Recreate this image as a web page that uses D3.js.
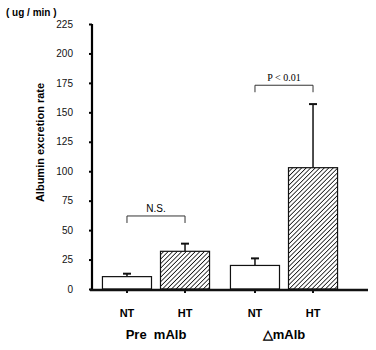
<!DOCTYPE html>
<html>
<head>
<meta charset="utf-8">
<script src="https://cdn.jsdelivr.net/npm/d3@7"></script>
<style>
  body { margin: 0; background: #fff; }
  svg { display: block; }
</style>
</head>
<body>
<div id="chart"></div>
<script>
// Chart values
const groups = ['Pre  mAlb', '\u25B3mAlb'];
const subgroups = ['NT', 'HT'];
const means = [[10.5, 32], [20, 103]];
const errTops = [[13, 38.5], [26, 157]];
const yTicks = [0, 25, 50, 75, 100, 125, 150, 175, 200, 225];
const sigLabels = ['N.S.', 'P < 0.01'];
const sigLevels = [62, 173];

const width = 376;
const height = 350;
const margin = { top: 24, right: 28, bottom: 61, left: 92 };

const svg = d3.select('#chart')
    .append('svg')
    .attr('width', width)
    .attr('height', height);

// hatching for HT bars
const defs = svg.append('defs');
defs.append('pattern')
    .attr('id', 'hatch')
    .attr('patternUnits', 'userSpaceOnUse')
    .attr('width', 3.2)
    .attr('height', 3.2)
    .attr('patternTransform', 'rotate(45)')
    .append('line')
    .attr('x1', 0).attr('y1', 0)
    .attr('x2', 0).attr('y2', 3.2)
    .attr('stroke', '#111')
    .attr('stroke-width', 1.6);

const innerWidth = width - margin.left - margin.right;
const innerHeight = height - margin.top - margin.bottom;

const chart = svg.append('g')
    .attr('transform', `translate(${margin.left},${margin.top})`);

const yScale = d3.scaleLinear()
    .domain([0, 225])
    .range([innerHeight, 0]);

const xGroup = d3.scaleBand()
    .domain(groups)
    .range([0, 256])
    .padding(0);

const xSub = d3.scaleBand()
    .domain(subgroups)
    .range([0, xGroup.bandwidth()])
    .paddingInner(0.155)
    .paddingOuter(0.18);

// y axis
const yAxis = chart.append('g')
    .call(d3.axisLeft(yScale).tickValues(yTicks).tickSize(3).tickPadding(16));
yAxis.select('.domain').attr('stroke-width', 2.2).attr('d', `M0,${innerHeight + 1}V0`);
yAxis.selectAll('.tick line').attr('stroke-width', 2);
yAxis.selectAll('text')
    .style('font-family', '"Liberation Sans Narrow", "Liberation Sans", Arial, sans-serif')
    .style('font-size', '10px')
    .attr('fill', '#111');

// bars
groups.forEach((g, gi) => {
    const gx = xGroup(g);
    subgroups.forEach((s, si) => {
        const x = gx + xSub(s);
        const bw = xSub.bandwidth();
        const cx = x + bw / 2;
        // error bar
        chart.append('line')
            .attr('x1', cx).attr('x2', cx)
            .attr('y1', yScale(means[gi][si])).attr('y2', yScale(errTops[gi][si]))
            .attr('stroke', '#111').attr('stroke-width', 1.5);
        chart.append('line')
            .attr('x1', cx - 4).attr('x2', cx + 4)
            .attr('y1', yScale(errTops[gi][si])).attr('y2', yScale(errTops[gi][si]))
            .attr('stroke', '#111').attr('stroke-width', 2);
        chart.append('rect')
            .attr('x', x)
            .attr('y', yScale(means[gi][si]))
            .attr('width', bw)
            .attr('height', innerHeight - yScale(means[gi][si]))
            .attr('fill', si === 0 ? '#fff' : 'url(#hatch)')
            .attr('stroke', '#111')
            .attr('stroke-width', 1.2);
        // small tick under baseline
        chart.append('line')
            .attr('x1', cx).attr('x2', cx)
            .attr('y1', innerHeight).attr('y2', innerHeight + 4)
            .attr('stroke', '#111').attr('stroke-width', 2);
        // NT / HT label
        chart.append('text')
            .attr('x', cx)
            .attr('y', innerHeight + 28)
            .attr('text-anchor', 'middle')
            .style('font-family', '"Liberation Sans", Arial, sans-serif')
            .style('font-size', '11px')
            .style('font-weight', 'bold')
            .text(s);
    });

    // significance bracket
    const x1 = gx + xSub('NT') + xSub.bandwidth() / 2;
    const x2 = gx + xSub('HT') + xSub.bandwidth() / 2;
    const yb = yScale(sigLevels[gi]);
    chart.append('path')
        .attr('d', `M${x1},${yb + 7}V${yb}H${x2}V${yb + 7}`)
        .attr('fill', 'none')
        .attr('stroke', '#333')
        .attr('stroke-width', 1);
    chart.append('text')
        .attr('x', (x1 + x2) / 2)
        .attr('y', yb - 4)
        .attr('text-anchor', 'middle')
        .style('font-family', gi === 0 ? '"Liberation Sans", Arial, sans-serif' : '"Liberation Serif", "Times New Roman", serif')
        .style('font-size', '10px')
        .text(sigLabels[gi]);

    // group label
    chart.append('text')
        .attr('x', gx + xGroup.bandwidth() / 2)
        .attr('y', innerHeight + 50)
        .attr('text-anchor', 'middle')
        .style('font-family', '"Liberation Sans", Arial, sans-serif')
        .style('font-size', '13px')
        .style('font-weight', 'bold')
        .style('white-space', 'pre')
        .text(g);
});

// x baseline
chart.append('line')
    .attr('x1', -2).attr('x2', innerWidth + 20)
    .attr('y1', innerHeight + 1).attr('y2', innerHeight + 1)
    .attr('stroke', '#111')
    .attr('stroke-width', 2.4);

// y axis title
chart.append('text')
    .attr('transform', 'rotate(-90)')
    .attr('x', -118.5)
    .attr('y', -48)
    .attr('text-anchor', 'middle')
    .style('font-family', '"Liberation Sans", Arial, sans-serif')
    .style('font-size', '11px')
    .style('font-weight', 'bold')
    .text('Albumin excretion rate');

// unit label
svg.append('text')
    .attr('x', 6)
    .attr('y', 16)
    .style('font-family', '"Liberation Sans", Arial, sans-serif')
    .style('font-size', '10px')
    .style('font-weight', 'bold')
    .style('white-space', 'pre')
    .text('( ug / min )');
</script>
</body>
</html>
